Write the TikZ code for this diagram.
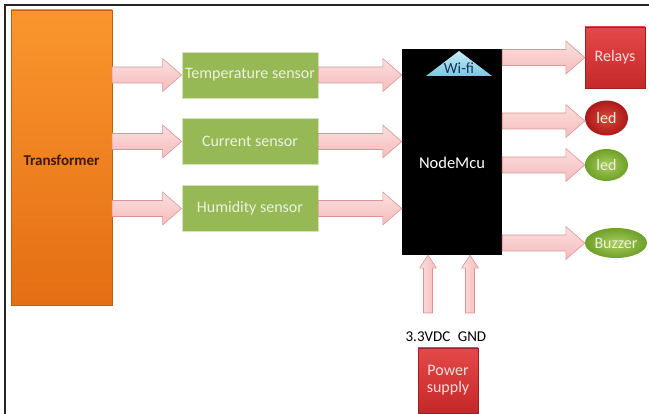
\documentclass[tikz,border=0pt]{standalone}
\usepackage{fontspec}
\setmainfont{Carlito}
\usetikzlibrary{shapes.geometric,calc}
\definecolor{arrfill}{RGB}{245,188,188}
\definecolor{arrlight}{RGB}{252,222,222}
\definecolor{arredge}{RGB}{218,150,150}
\definecolor{sgreen}{RGB}{150,185,85}
\definecolor{sgreentext}{RGB}{236,242,222}
\definecolor{orangetop}{RGB}{250,150,45}
\definecolor{orangebot}{RGB}{228,110,20}
\definecolor{redtop}{RGB}{228,72,72}
\definecolor{redbot}{RGB}{196,40,40}
\definecolor{redtext}{RGB}{245,220,220}
\definecolor{wifitop}{RGB}{200,236,246}
\definecolor{wifibot}{RGB}{120,200,225}
\definecolor{wifitext}{RGB}{25,50,90}
\definecolor{transtext}{RGB}{60,25,5}
\definecolor{lgreenin}{RGB}{170,205,95}
\definecolor{lgreenout}{RGB}{110,160,40}
\definecolor{lredin}{RGB}{225,70,60}
\definecolor{lredout}{RGB}{170,25,25}
% horizontal fat arrow: body half 8pt, head half 16.5pt, head length 19pt
\newcommand\harrow[2]{\draw[fatline] let \p1=(#1), \p2=(#2) in
  ({\x1},{\y1+8pt}) -- ({\x2-19pt},{\y1+8pt}) -- ({\x2-19pt},{\y1+16.5pt}) -- ({\x2},{\y1})
  -- ({\x2-19pt},{\y1-16.5pt}) -- ({\x2-19pt},{\y1-8pt}) -- ({\x1},{\y1-8pt}) -- cycle;}
% vertical (upward) fat arrow
\newcommand\varrow[2]{\draw[vfatline] let \p1=(#1), \p2=(#2) in
  ({\x1-4.5pt},{\y1}) -- ({\x1-4.5pt},{\y2-13pt}) -- ({\x1-8.5pt},{\y2-13pt}) -- ({\x1},{\y2})
  -- ({\x1+8.5pt},{\y2-13pt}) -- ({\x1+4.5pt},{\y2-13pt}) -- ({\x1+4.5pt},{\y1}) -- cycle;}
\begin{document}
\begin{tikzpicture}[x=1pt,y=-1pt,
  lbl/.style={font=\fontsize{16}{18}\selectfont},
  fatline/.style={draw=arredge, top color=arrlight, bottom color=arrfill, line width=0.6pt, line join=miter},
  vfatline/.style={draw=arredge, left color=arrlight, right color=arrfill, line width=0.6pt, line join=miter},
  sensor/.style={rectangle, fill=sgreen, draw=sgreen!40!white, line width=0.8pt, text=sgreentext,
    minimum width=136pt, minimum height=46pt, inner sep=0pt, lbl},
  redbox/.style={rectangle, top color=redtop, bottom color=redbot, draw=redbot!80!black, line width=0.3pt,
    text=redtext, inner sep=0pt, lbl, align=center},
  ledstyle/.style={ellipse, inner sep=0pt, lbl, text=sgreentext},
]
\useasboundingbox (0,0) rectangle (649,414);
\draw[line width=2pt, black!85] (5,414) -- (5,5) -- (649,5);

% main blocks
\node[rectangle, top color=orangetop, bottom color=orangebot, draw=orangebot!85!black, line width=0.3pt,
  minimum width=101pt, minimum height=295pt, inner sep=0pt] (trans) at (61.5,157.5) {};
\node[text=transtext, font=\fontsize{15}{17}\selectfont\bfseries] (transtxt) at (61.5,160) {Transformer};

\node[sensor] (temp) at (250,75) {Temperature sensor};
\node[sensor] (curr) at (250,141.5) {Current sensor};
\node[sensor] (humi) at (250,208.5) {Humidity sensor};

\node[rectangle, fill=black, minimum width=100pt, minimum height=206pt, inner sep=0pt] (mcu) at (452,152) {};
\node[text=white, font=\fontsize{16.5}{18}\selectfont] (mcutxt) at (452,163) {NodeMcu};

\coordinate (wl) at (426,76);
\coordinate (wt) at (459,51);
\coordinate (wr) at (492,76);
\shade[top color=wifitop, bottom color=wifibot] (wl) -- (wt) -- (wr) -- cycle;
\node[text=wifitext, font=\fontsize{15.5}{17}\selectfont] (wifi) at (459,68) {Wi-fi};

\node[redbox, minimum width=60pt, minimum height=61pt] (relays) at (615,57.5) {Relays};
\node[ledstyle, inner color=lredin, outer color=lredout, minimum width=43pt, minimum height=35pt] (ledr) at (606.5,118) {led};
\node[ledstyle, inner color=lgreenin, outer color=lgreenout, minimum width=43pt, minimum height=32pt] (ledg) at (606.5,165) {led};
\node[ledstyle, inner color=lgreenin, outer color=lgreenout, minimum width=62pt, minimum height=30pt] (buzz) at (616,243) {Buzzer};

\node[redbox, minimum width=60pt, minimum height=65pt] (power) at (448,380.5) {Power\\[-1pt]supply};
\node[font=\fontsize{15}{17}\selectfont] (v33) at (428,337) {3.3VDC};
\node[font=\fontsize{15}{17}\selectfont] (gnd) at (472,337) {GND};
\coordinate (v33top) at (428,313);
\coordinate (gndtop) at (470,313);

% fat arrows
\harrow{trans.east |- temp.west}{temp.west}
\harrow{trans.east |- curr.west}{curr.west}
\harrow{trans.east |- humi.west}{humi.west}
\harrow{temp.east}{mcu.west |- temp.east}
\harrow{curr.east}{mcu.west |- curr.east}
\harrow{humi.east}{mcu.west |- humi.east}
\harrow{mcu.east |- relays.west}{relays.west}
\harrow{mcu.east |- 0,121}{ledr.west |- 0,121}
\harrow{mcu.east |- ledg.west}{ledg.west}
\harrow{mcu.east |- buzz.west}{buzz.west}
\varrow{v33top}{v33top |- mcu.south}
\varrow{gndtop}{gndtop |- mcu.south}
\end{tikzpicture}
\end{document}
